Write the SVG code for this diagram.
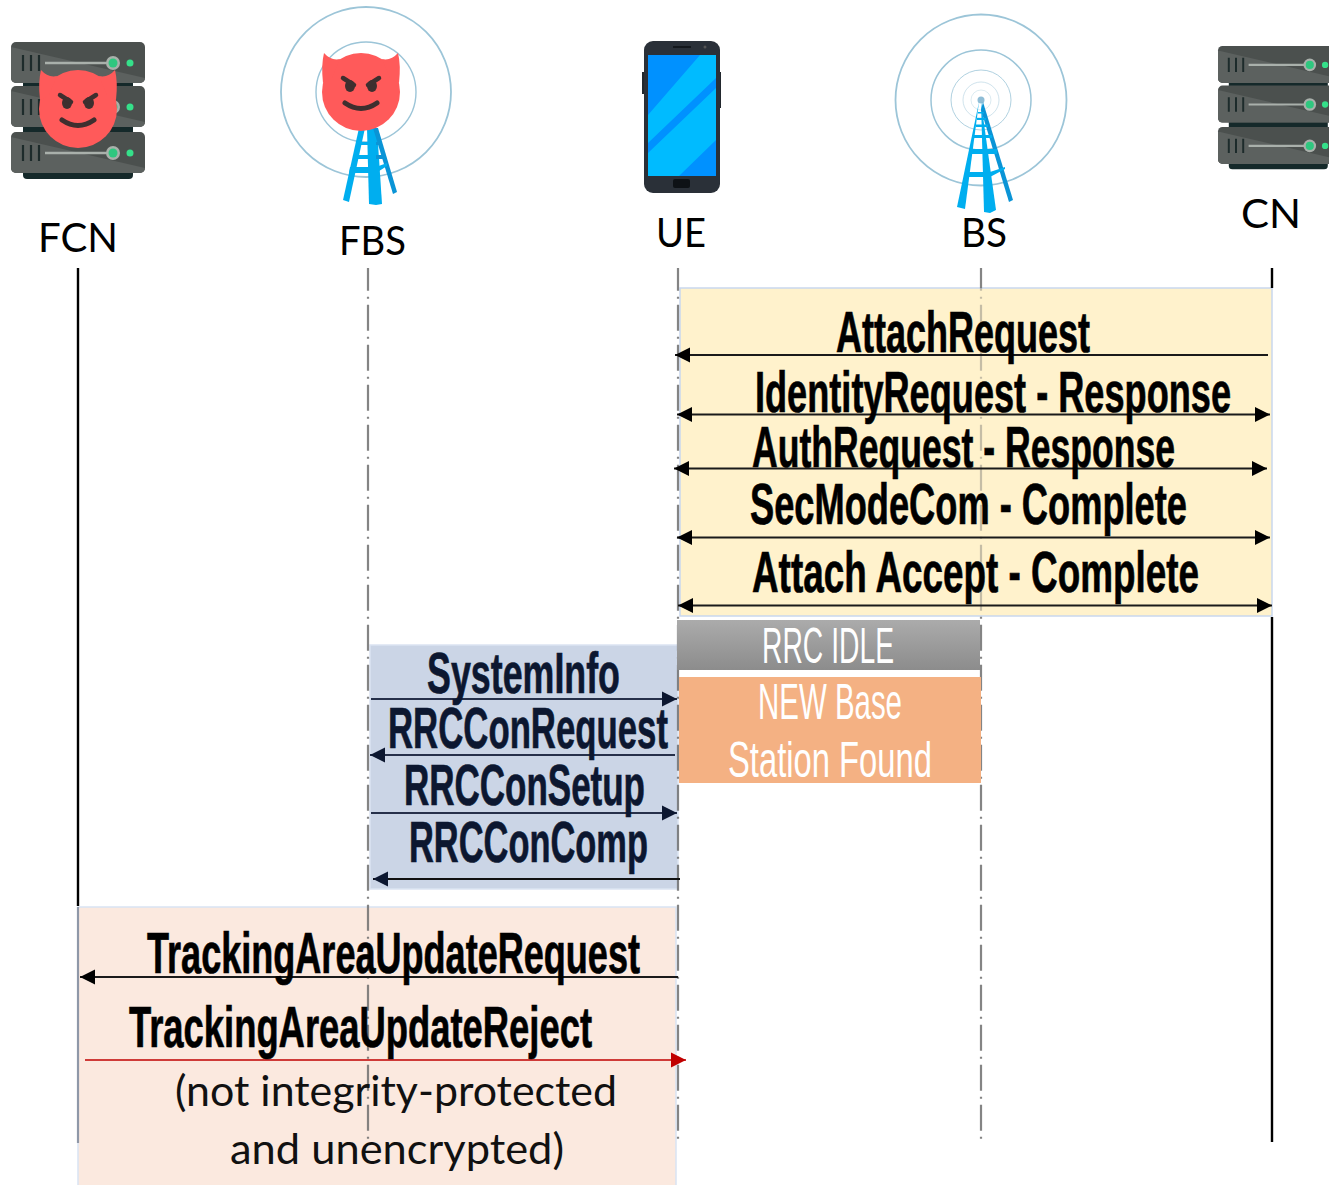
<svg xmlns="http://www.w3.org/2000/svg" width="1329" height="1185" viewBox="0 0 1329 1185">
<style>
.lab{font-family:"Lato","Open Sans",sans-serif;font-size:40px;fill:#000}
.msg{font-family:"Liberation Sans Narrow","Liberation Sans",sans-serif;font-weight:700;font-size:57px;fill:#000;stroke:#000;stroke-width:.7}
.navy{fill:#0c1730;stroke:#0c1730}
.thin{font-family:"Liberation Sans Narrow","Liberation Sans",sans-serif;font-size:50px;fill:#fff}
.note{font-family:"Lato","Open Sans",sans-serif;font-size:42px;fill:#111}
.solid{stroke:#000;stroke-width:2.4;fill:none}
.dash{stroke:#6e6e6e;stroke-width:2.2;fill:none;stroke-dasharray:26 6 2 6;stroke-dashoffset:3.3;opacity:.85}
.m{stroke:#1a1a1a;stroke-width:1.8;fill:none;marker-start:url(#as);marker-end:url(#ae)}
.ring{fill:none;stroke:#9cc5d8}
</style>
<defs>
<marker id="ae" markerUnits="userSpaceOnUse" markerWidth="16" markerHeight="16" refX="15" refY="8" orient="auto"><path d="M0 0.5L15 8L0 15.5z" fill="#000"/></marker>
<marker id="as" markerUnits="userSpaceOnUse" markerWidth="16" markerHeight="16" refX="1" refY="8" orient="auto"><path d="M16 0.5L1 8L16 15.500z" fill="#000"/></marker>
<marker id="ne" markerUnits="userSpaceOnUse" markerWidth="16" markerHeight="16" refX="15" refY="8" orient="auto"><path d="M0 0.5L15 8L0 15.5z" fill="#0c1730"/></marker>
<marker id="ns" markerUnits="userSpaceOnUse" markerWidth="16" markerHeight="16" refX="1" refY="8" orient="auto"><path d="M16 0.5L1 8L16 15.5z" fill="#0c1730"/></marker>
<marker id="re" markerUnits="userSpaceOnUse" markerWidth="16" markerHeight="16" refX="15" refY="8" orient="auto"><path d="M0 0.5L15 8L0 15.5z" fill="#c00000"/></marker>
<linearGradient id="gr" x1="0" y1="0" x2="0" y2="1"><stop offset="0" stop-color="#ababab"/><stop offset="1" stop-color="#8c8c8c"/></linearGradient>
<g id="slab">
<rect width="134" height="41" rx="5" fill="#4b504e"/>
<path d="M0 5L134 36V36a5 5 0 0 1-5 5H5a5 5 0 0 1-5-5z" fill="#5c615f"/>
<path d="M12 13v16M20 13v16M28 13v16" stroke="#1d2b2b" stroke-width="2.2"/>
<path d="M34 21H98" stroke="#a9b0ab" stroke-width="2.4"/>
<circle cx="102" cy="21" r="7" fill="#a9b0ab"/><circle cx="102" cy="21" r="4.5" fill="#2fc77f"/>
<circle cx="119" cy="21" r="3.5" fill="#35e08a"/>
</g>
<g id="server">
<rect x="12" y="30" width="110" height="107" rx="4" fill="#15292a"/>
<use href="#slab" y="0"/><use href="#slab" y="44"/><use href="#slab" y="90"/>
</g>
<g id="devil">
<circle cx="39" cy="39" r="39" fill="#ff5a5a"/>
<path d="M2 0Q9 8 18 6L10 25L1 30Q-1 12 2 0zM76 0Q69 8 60 6L68 25L77 30Q79 12 76 0z" fill="#ff5a5a"/>
<ellipse cx="28" cy="33" rx="5" ry="6" fill="#3e2f2f"/><ellipse cx="50" cy="33" rx="5" ry="6" fill="#3e2f2f"/>
<path d="M21 25L32 32M57 25L46 32" stroke="#3e2f2f" stroke-width="4.5" stroke-linecap="round"/>
<path d="M23 50Q39 61 55 50" stroke="#3e2f2f" stroke-width="5" stroke-linecap="round" fill="none"/>
</g>
</defs>
<rect width="1329" height="1185" fill="#fff"/>

<g id="block-attach"><rect x="680" y="288" width="592" height="328" fill="#fff2cc" stroke="#c9d7ee" stroke-width="1.5"/></g>
<g id="block-rrc"><rect x="370" y="645" width="308" height="244" fill="#cbd5e6" stroke="#dbe4f2" stroke-width="1.5"/></g>
<g id="block-tau"><rect x="78" y="907" width="598" height="280" fill="#fbe9df" stroke="#d9e3f3" stroke-width="1.5"/></g>

<g id="connectors">
<path class="solid" d="M78 268V906"/>
<path d="M78 907V1143" stroke="#8f98a8" stroke-width="2.2" fill="none"/>
<path class="solid" d="M1272 268V288M1272 617V1142"/>
<path class="dash" d="M368 268V1140"/>
<path class="dash" d="M678 268V1140"/>
<path class="dash" d="M981 268V288"/>
<path class="dash" style="stroke-dashoffset:23.3;opacity:.4" d="M981 288V616"/>
<path class="dash" style="stroke-dashoffset:351.3" d="M981 616V1140"/>
<path class="m" style="marker-end:none" d="M675 355H1268"/>
<path class="m" d="M677 414.500H1270"/>
<path class="m" d="M674 468.500H1267"/>
<path class="m" d="M677 537.500H1270"/>
<path class="m" d="M678 605.500H1272"/>
<path style="stroke:#26304a;stroke-width:1.8;marker-end:url(#ne)" d="M371 699H677"/>
<path style="stroke:#26304a;stroke-width:1.8;marker-start:url(#ns)" d="M370 755H675"/>
<path style="stroke:#26304a;stroke-width:1.8;marker-end:url(#ne)" d="M371 813H677"/>
<path style="stroke:#111;stroke-width:1.8;marker-start:url(#ns)" d="M373 879H680"/>
<path class="m" style="marker-end:none" d="M80 977H678"/>
<path style="stroke:#c00000;stroke-width:1.5;marker-end:url(#re)" d="M85 1060H686"/>
</g>

<g id="node-fcn">
<use href="#server" x="11" y="42"/>
<use href="#devil" x="39" y="70"/>
<text class="lab" x="38" y="252" textLength="80" lengthAdjust="spacingAndGlyphs">FCN</text>
</g>
<g id="node-fbs">
<circle class="ring" cx="366" cy="92" r="85" stroke-width="1.8"/>
<circle class="ring" cx="366" cy="92" r="50" stroke-width="1.4"/>
<path d="M359 128h6l-16 74-6-2z" fill="#00aeef"/>
<path d="M367 128h10l5 76-6 1-7-1z" fill="#00aeef"/>
<path d="M373 128h5l19 64-4 2z" fill="#0a94d6"/>
<path d="M357 142H380V145H356zM354 155H384V159H353zM350 167H376L387 163V166L376 173H349z" fill="#00aeef"/>
<path d="M376 142h4v3h-4zM376 155h8v4h-8z" fill="#0a94d6"/>
<use href="#devil" x="322" y="53"/>
<text class="lab" x="339" y="255" textLength="67" lengthAdjust="spacingAndGlyphs">FBS</text>
</g>
<g id="node-ue">
<rect x="642" y="72" width="4" height="22" fill="#22282e"/><rect x="717" y="72" width="4" height="36" fill="#22282e"/>
<rect x="644" y="41" width="76" height="152" rx="9" fill="#2a3038"/>
<rect x="648" y="55" width="68" height="121" fill="#0091ff"/>
<path d="M648 115L700 55H716V78L648 143zM648 153L716 88V140L679 176H648z" fill="#00bbff"/>
<path d="M673 47H691" stroke="#0e1216" stroke-width="1.6"/><circle cx="705" cy="47" r="1.5" fill="#555"/>
<rect x="673" y="179" width="17" height="9" rx="2" fill="#0e1216"/>
<text class="lab" x="656" y="247" textLength="50" lengthAdjust="spacingAndGlyphs">UE</text>
</g>
<g id="node-bs">
<circle class="ring" cx="981" cy="100" r="85.500" stroke-width="1.8"/>
<circle class="ring" cx="981" cy="100" r="50" stroke-width="1.500"/>
<circle class="ring" cx="981" cy="100" r="30" stroke-width="1" opacity=".8"/>
<circle class="ring" cx="981" cy="100" r="18" stroke-width=".8" opacity=".6"/>
<circle class="ring" cx="981" cy="100" r="10" stroke-width=".7" opacity=".5"/>
<circle cx="981" cy="100" r="3.500" fill="#8fbdd6"/>
<path d="M979 102L965 209L957 207z" fill="#00aeef"/>
<path d="M981 102L996 210L990 213L984 212z" fill="#00aeef"/>
<path d="M983 102L1013 200L1009 202L981 110z" fill="#0a94d6"/>
<path d="M978 112h6v1.500h-6zM977 118h9v2h-9zM976 124.500h12v2.500h-12zM974 135h18v3h-18zM971 149h26v5h-26zM967 172h23l15-5v2l-15 8h-24z" fill="#00aeef"/>
<text class="lab" x="961" y="247" textLength="46" lengthAdjust="spacingAndGlyphs">BS</text>
</g>
<g id="node-cn">
<use href="#server" transform="translate(1218 46) scale(.9)"/>
<text class="lab" x="1241" y="228" textLength="60" lengthAdjust="spacingAndGlyphs">CN</text>
</g>

<g id="labels-attach">
<text class="msg" x="836" y="352" textLength="254" lengthAdjust="spacingAndGlyphs">AttachRequest</text>
<text class="msg" x="755" y="412" textLength="476" lengthAdjust="spacingAndGlyphs">IdentityRequest - Response</text>
<text class="msg" x="752" y="467" textLength="423" lengthAdjust="spacingAndGlyphs">AuthRequest - Response</text>
<text class="msg" x="750" y="524" textLength="437" lengthAdjust="spacingAndGlyphs">SecModeCom - Complete</text>
<text class="msg" x="752" y="592" textLength="447" lengthAdjust="spacingAndGlyphs">Attach Accept - Complete</text>
</g>
<g id="labels-rrc">
<text class="msg navy" x="427" y="693" textLength="193" lengthAdjust="spacingAndGlyphs">SystemInfo</text>
<text class="msg navy" x="388" y="748" textLength="280" lengthAdjust="spacingAndGlyphs">RRCConRequest</text>
<text class="msg navy" x="404" y="805" textLength="241" lengthAdjust="spacingAndGlyphs">RRCConSetup</text>
<text class="msg navy" x="409" y="862" textLength="239" lengthAdjust="spacingAndGlyphs">RRCConComp</text>
</g>
<g id="node-idle">
<rect x="677" y="620" width="303" height="50" fill="url(#gr)"/>
<text class="thin" x="762" y="663" textLength="132" lengthAdjust="spacingAndGlyphs">RRC IDLE</text>
</g>
<g id="node-newbase">
<rect x="679" y="677" width="302" height="106" fill="#f4b183"/>
<text class="thin" x="758" y="719" textLength="144" lengthAdjust="spacingAndGlyphs">NEW Base</text>
<text class="thin" x="728" y="777" textLength="204" lengthAdjust="spacingAndGlyphs">Station Found</text>
</g>
<g id="labels-tau">
<text class="msg" x="147" y="973" textLength="493" lengthAdjust="spacingAndGlyphs">TrackingAreaUpdateRequest</text>
<text class="msg" x="129" y="1047" textLength="463" lengthAdjust="spacingAndGlyphs">TrackingAreaUpdateReject</text>
<text class="note" x="175" y="1106" textLength="442" lengthAdjust="spacingAndGlyphs">(not integrity-protected</text>
<text class="note" x="230" y="1164" textLength="334" lengthAdjust="spacingAndGlyphs">and unencrypted)</text>
</g>
</svg>
